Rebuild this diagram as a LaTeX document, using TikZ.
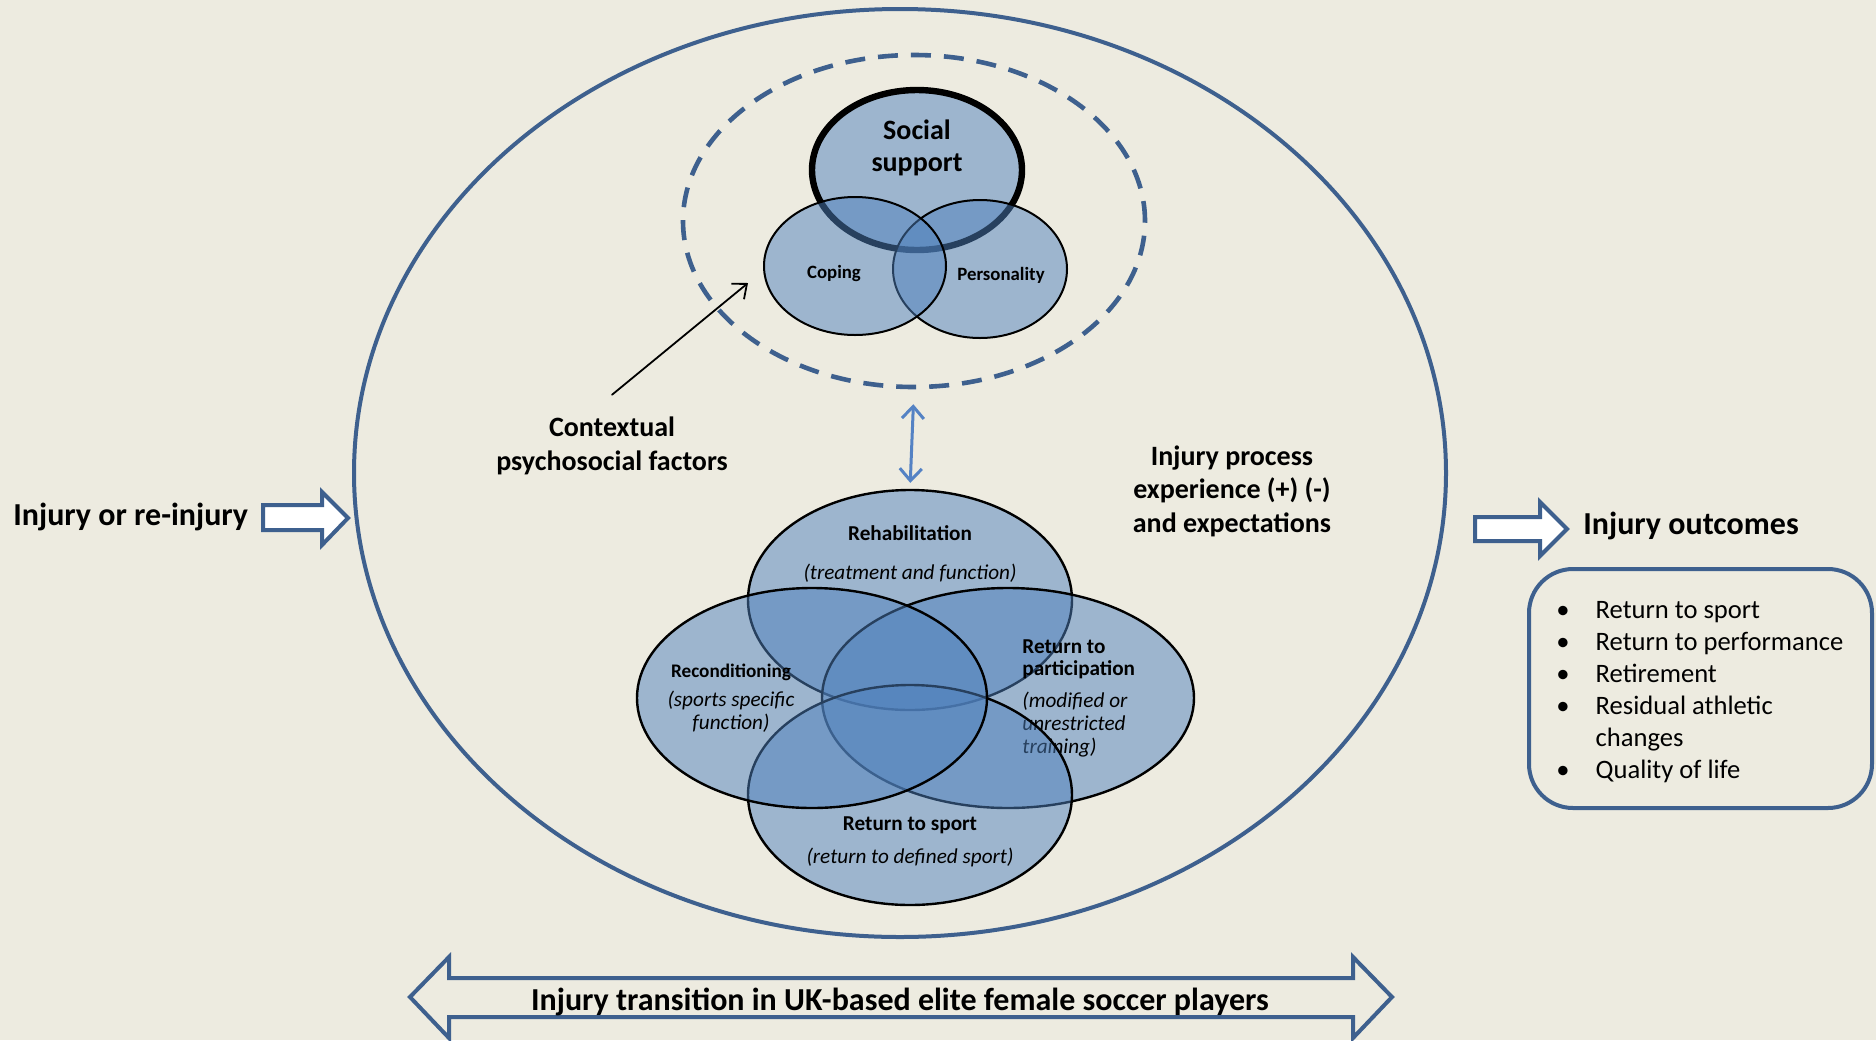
\documentclass[tikz,border=0pt]{standalone}
\usepackage{fontspec}
\setmainfont{Carlito}
\usetikzlibrary{shapes.geometric,arrows.meta,positioning}

\definecolor{bgbeige}{RGB}{237,235,224}
\definecolor{lineblue}{RGB}{62,96,142}
\definecolor{vennblue}{RGB}{79,129,189}
\definecolor{arrowblue}{RGB}{84,130,196}

\tikzset{
  venn/.style={ellipse, draw=black, fill=vennblue, fill opacity=0.5, text opacity=1, inner sep=0pt},
  outline/.style={ellipse, draw=lineblue, line width=2pt, inner sep=0pt},
  blockarrow/.style={draw=lineblue, line width=2pt, line join=miter},
  headtext/.style={font=\bfseries\fontsize{16}{19}\selectfont, inner sep=0pt},
  midtext/.style={font=\bfseries\fontsize{14}{16.8}\selectfont, align=center, inner sep=0pt},
  stagetext/.style={font=\bfseries\fontsize{10.6}{11.2}\selectfont, inner sep=0pt},
  notetext/.style={font=\itshape\fontsize{10.6}{11.3}\selectfont, inner sep=0pt}
}

\begin{document}
\begin{tikzpicture}[x=0.5pt, y=-0.5pt, line join=round, line cap=round]

	% --- background ---
	\fill[bgbeige] (0,0) rectangle (1876,1040);
	\useasboundingbox (0,0) rectangle (1876,1040);

	% --- outer ellipses ---
	\node[outline, minimum width=546pt, minimum height=464pt] (process) at (900,473) {};
	\node[outline, line width=2.3pt, dash pattern=on 10pt off 6.5pt, line cap=butt, minimum width=231pt, minimum height=166pt] (context) at (914,221) {};

	% --- psychosocial factors ---
	\node[venn, line width=3.2pt, minimum width=105pt, minimum height=80pt] (social) at (917,170) {};
	\node[font=\bfseries\fontsize{14}{16}\selectfont, align=center, inner sep=0pt] (sociallabel) at (917,148) {Social\\support};
	\node[venn, line width=1pt, minimum width=87pt, minimum height=69pt] (personality) at (980,269) {};
	\node[font=\bfseries\fontsize{9.4}{10}\selectfont, inner sep=0pt] (personalitylabel) at (1001,275) {Personality};
	\node[venn, line width=1pt, minimum width=91pt, minimum height=69pt] (coping) at (855,266) {};
	\node[font=\bfseries\fontsize{9.4}{10}\selectfont, inner sep=0pt] (copinglabel) at (834,273) {Coping};

	% --- injury process stages ---
	\node[venn, line width=1.2pt, minimum width=162pt, minimum height=110pt] (rehab) at (910,600) {};
	\node[stagetext] (rehablabel) at (910,533) {Rehabilitation};
	\node[notetext] (rehabnote) at (910,573) {(treatment and function)};

	\node[venn, line width=1.2pt, minimum width=186pt, minimum height=110pt] (particip) at (1008,698) {};
	\node[stagetext, anchor=west, align=left] (partlabel) at (1022,659) {Return to\\participation};
	\node[notetext, anchor=north west, align=left] (partnote) at (1022,692) {(modified or\\unrestricted\\training)};

	\node[venn, line width=1.2pt, minimum width=162pt, minimum height=110pt] (sport) at (910,795) {};
	\node[stagetext] (sportlabel) at (910,825) {Return to sport};
	\node[notetext] (sportnote) at (910,857) {(return to defined sport)};

	\node[venn, line width=1.2pt, minimum width=175pt, minimum height=110pt] (recond) at (812,698) {};
	\node[stagetext, font=\bfseries\fontsize{9.6}{11}\selectfont] (recondlabel) at (731,672) {Reconditioning};
	\node[notetext, align=center] (recondnote) at (731,712) {(sports specific\\function)};

	% --- link between the two groups ---
	\draw[{Straight Barb[length=6pt,width=11pt]}-{Straight Barb[length=6pt,width=11pt]}, arrowblue, line width=1.5pt, shorten <=7.5pt, shorten >=3pt] (context.south) -- (rehab.north);

	% --- labels inside the big ellipse ---
	\node[midtext] (ctxlabel) at (612,446) {Contextual\\psychosocial factors};
	\coordinate (ctxtip) at (748,283);
	\draw[-{Straight Barb[length=6pt,width=10pt]}, line width=0.9pt] ([yshift=11pt]ctxlabel.north) -- (ctxtip);
	\node[midtext] (explabel) at (1232,491) {Injury process\\experience (+) (-)\\and expectations};

	% --- injury (in) ---
	\node[headtext, anchor=west] (injury) at (13,517) {Injury or re-injury};
	\coordinate (ia1) at (263,505);
	\coordinate (ia2) at (322,505);
	\coordinate (ia3) at (322,492);
	\coordinate (ia4) at (348,518);
	\coordinate (ia5) at (322,545);
	\coordinate (ia6) at (322,530);
	\coordinate (ia7) at (263,530);
	\draw[blockarrow, fill=white] (ia1) -- (ia2) -- (ia3) -- (ia4) -- (ia5) -- (ia6) -- (ia7) -- cycle;

	% --- outcomes (out) ---
	\coordinate (oa1) at (1475,517);
	\coordinate (oa2) at (1540,517);
	\coordinate (oa3) at (1540,502);
	\coordinate (oa4) at (1567,529);
	\coordinate (oa5) at (1540,556);
	\coordinate (oa6) at (1540,541);
	\coordinate (oa7) at (1475,541);
	\draw[blockarrow, fill=white] (oa1) -- (oa2) -- (oa3) -- (oa4) -- (oa5) -- (oa6) -- (oa7) -- cycle;
	\node[headtext, anchor=west] (outcomes) at (1583,526) {Injury outcomes};

	\draw[lineblue, line width=2pt, rounded corners=22pt] (1529,569) rectangle (1872,808);
	\node[anchor=north west, inner sep=0pt, font=\fontsize{13.3}{16}\selectfont] (outcomelist) at (1556,596) {%
		\begin{tabular}{@{}l@{\hspace{13pt}}l@{}}
			\textbullet & Return to sport\\
			\textbullet & Return to performance\\
			\textbullet & Retirement\\
			\textbullet & Residual athletic\\
			            & changes\\
			\textbullet & Quality of life
		\end{tabular}};

	% --- transition arrow ---
	\coordinate (ta1) at (410,997);
	\coordinate (ta2) at (449,957);
	\coordinate (ta3) at (449,978);
	\coordinate (ta4) at (1353,978);
	\coordinate (ta5) at (1353,957);
	\coordinate (ta6) at (1392,997);
	\coordinate (ta7) at (1353,1038);
	\coordinate (ta8) at (1353,1017);
	\coordinate (ta9) at (449,1017);
	\coordinate (ta10) at (449,1038);
	\draw[blockarrow] (ta1) -- (ta2) -- (ta3) -- (ta4) -- (ta5) -- (ta6) -- (ta7) -- (ta8) -- (ta9) -- (ta10) -- cycle;
	\node[font=\bfseries\fontsize{16}{18}\selectfont, inner sep=0pt] (transition) at (900,1002) {Injury transition in UK-based elite female soccer players};

\end{tikzpicture}
\end{document}
